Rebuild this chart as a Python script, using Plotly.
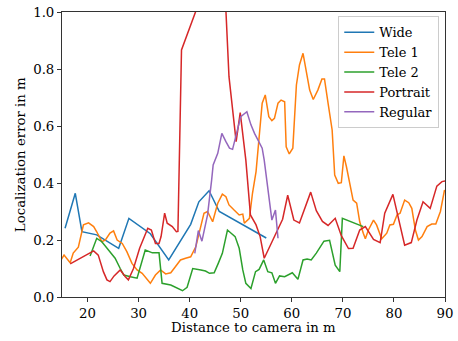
import plotly.graph_objects as go

# ---- data ----
wide_x = [15.6, 17.6, 18.9, 21.8, 26.1, 28.1, 32.3, 35.9, 40.2, 41.8, 43.8, 45.8, 55.0]
wide_y = [0.241, 0.364, 0.229, 0.218, 0.171, 0.276, 0.222, 0.130, 0.255, 0.334, 0.373, 0.300, 0.207]

tele1_x = [14.8, 15.4, 16.6, 17.2, 18.2, 19.2, 20.2, 21.2, 21.8, 22.8, 23.5, 24.4, 25.1, 25.8,
           26.8, 27.7, 28.7, 29.7, 30.7, 31.7, 32.3, 33.3, 34.3, 35.3, 36.3, 37.2, 38.2, 39.2,
           40.2, 41.2, 42.2, 42.8, 43.5, 44.5, 45.5, 46.4, 47.1, 47.7, 48.7, 49.7, 50.4, 50.7,
           51.7, 52.3, 53.0, 53.6, 54.2, 54.8, 55.5, 56.1, 56.6, 57.3, 57.9, 58.6, 58.9, 59.5,
           60.2, 60.9, 61.5, 62.2, 62.8, 63.5, 64.2, 65.1, 65.9, 66.4, 67.1, 67.9, 68.4, 69.1,
           69.7, 70.2, 70.7, 71.4, 72.0, 72.7, 73.3, 74.0, 74.4, 75.0, 76.0, 76.6, 77.6, 78.6,
           79.2, 79.9, 80.6, 81.2, 82.1, 82.9, 83.5, 84.2, 84.8, 85.5, 86.5, 87.4, 88.2, 89.1,
           89.9, 90.4]
tele1_y = [0.130, 0.147, 0.120, 0.154, 0.175, 0.253, 0.260, 0.247, 0.229, 0.194, 0.200, 0.224, 0.232, 0.200,
           0.188, 0.159, 0.118, 0.095, 0.083, 0.060, 0.048, 0.077, 0.095, 0.081, 0.085, 0.106, 0.130, 0.136,
           0.141, 0.176, 0.247, 0.294, 0.300, 0.264, 0.329, 0.361, 0.352, 0.323, 0.305, 0.288, 0.291, 0.259,
           0.276, 0.364, 0.440, 0.574, 0.680, 0.709, 0.633, 0.619, 0.627, 0.680, 0.691, 0.685, 0.527, 0.502,
           0.522, 0.744, 0.814, 0.855, 0.790, 0.726, 0.693, 0.726, 0.765, 0.765, 0.680, 0.586, 0.428, 0.399,
           0.401, 0.495, 0.457, 0.393, 0.340, 0.329, 0.264, 0.224, 0.204, 0.235, 0.270, 0.253, 0.204, 0.224,
           0.253, 0.255, 0.288, 0.294, 0.340, 0.331, 0.311, 0.235, 0.200, 0.212, 0.247, 0.256, 0.256, 0.300,
           0.375, 0.364]

tele2_x = [20.5, 21.8, 22.8, 24.1, 25.4, 26.4, 27.1, 28.4, 29.7, 31.3, 32.7, 34.0, 34.6, 36.3,
           37.6, 38.6, 39.5, 40.6, 42.2, 43.1, 43.9, 44.8, 45.6, 46.4, 47.4, 48.1, 48.9, 49.7,
           50.4, 51.0, 52.0, 52.9, 53.6, 54.5, 55.3, 56.1, 56.8, 57.6, 58.6, 60.1, 61.2, 62.2,
           63.0, 63.8, 64.8, 66.3, 67.4, 68.5, 69.4, 69.9, 74.0]
tele2_y = [0.144, 0.206, 0.194, 0.165, 0.136, 0.100, 0.077, 0.071, 0.066, 0.165, 0.155, 0.155, 0.048, 0.042,
           0.030, 0.022, 0.034, 0.100, 0.095, 0.091, 0.083, 0.085, 0.118, 0.153, 0.235, 0.224, 0.212, 0.171,
           0.095, 0.048, 0.030, 0.089, 0.097, 0.130, 0.089, 0.085, 0.048, 0.074, 0.071, 0.085, 0.062, 0.130,
           0.133, 0.130, 0.154, 0.196, 0.199, 0.112, 0.089, 0.276, 0.247]

portrait_x = [16.6, 21.2, 22.1, 23.1, 23.8, 24.4, 25.2, 26.4, 27.4, 28.0, 29.0, 30.2, 31.8, 32.5,
              33.3, 34.0, 34.4, 35.1, 35.6, 36.6, 37.4, 37.7, 38.4, 43.0, 46.8, 47.7, 49.1, 49.9,
              51.0, 51.9, 53.0, 53.8, 54.6, 58.2, 59.2, 60.4, 61.5, 63.7, 64.8, 66.0, 67.1, 68.5,
              69.7, 71.1, 72.0, 73.3, 74.4, 76.0, 77.3, 78.2, 79.8, 80.7, 82.1, 83.4, 84.5, 85.7,
              87.1, 88.4, 89.4, 90.4]
portrait_y = [0.116, 0.162, 0.147, 0.089, 0.060, 0.054, 0.074, 0.095, 0.071, 0.060, 0.100, 0.171, 0.241, 0.235,
              0.188, 0.188, 0.212, 0.294, 0.259, 0.247, 0.229, 0.230, 0.867, 1.090, 1.120, 0.773, 0.545, 0.647,
              0.480, 0.288, 0.253, 0.212, 0.136, 0.273, 0.357, 0.270, 0.260, 0.368, 0.303, 0.265, 0.251, 0.276,
              0.215, 0.170, 0.171, 0.235, 0.247, 0.202, 0.191, 0.294, 0.360, 0.288, 0.182, 0.191, 0.270, 0.334,
              0.311, 0.389, 0.405, 0.408]

regular_x = [41.0, 41.7, 42.4, 43.5, 44.3, 44.6, 45.5, 46.3, 47.1, 47.8, 48.4, 49.2, 50.0, 51.2,
             52.0, 52.7, 53.5, 54.2, 54.6, 55.6, 56.1, 56.8, 57.3]
regular_y = [0.153, 0.233, 0.196, 0.288, 0.410, 0.463, 0.504, 0.574, 0.545, 0.522, 0.518, 0.580, 0.633, 0.650,
             0.604, 0.574, 0.545, 0.522, 0.480, 0.329, 0.270, 0.305, 0.206]

series = [
    ("Wide", wide_x, wide_y, "#1f77b4"),
    ("Tele 1", tele1_x, tele1_y, "#ff7f0e"),
    ("Tele 2", tele2_x, tele2_y, "#2ca02c"),
    ("Portrait", portrait_x, portrait_y, "#d62728"),
    ("Regular", regular_x, regular_y, "#9467bd"),
]

x_ticks = [20, 30, 40, 50, 60, 70, 80, 90]
y_ticks = [0.0, 0.2, 0.4, 0.6, 0.8, 1.0]
x_title = "Distance to camera in m"
y_title = "Localization error in m"

FONT = "DejaVu Serif"
FS = 13.3

fig = go.Figure()
for name, xs, ys, color in series:
    fig.add_trace(go.Scatter(x=xs, y=ys, mode="lines", name=name,
                             line=dict(color=color, width=1.5)))

axis_common = dict(showline=True, mirror=True, linecolor="#333333", linewidth=1,
                   ticks="outside", ticklen=4, tickwidth=1, tickcolor="#333333",
                   showgrid=False, zeroline=False, automargin=False,
                   tickfont=dict(family=FONT, size=FS, color="black"))

fig.update_xaxes(range=[15, 90], tickvals=x_ticks, **axis_common)
fig.update_yaxes(range=[0, 1], tickvals=y_ticks, tickformat=".1f", **axis_common)

fig.add_annotation(text=x_title, xref="paper", yref="paper", x=0.5, y=-0.107,
                   xanchor="center", yanchor="middle", showarrow=False,
                   font=dict(family=FONT, size=FS, color="black"))
fig.add_annotation(text=y_title, xref="paper", yref="paper", x=-0.108, y=0.5,
                   xanchor="center", yanchor="middle", showarrow=False, textangle=-90,
                   font=dict(family=FONT, size=FS, color="black"))

fig.update_layout(
    width=458, height=341,
    margin=dict(l=62, r=13, t=12, b=44),
    plot_bgcolor="white", paper_bgcolor="white",
    font=dict(family=FONT, size=FS, color="black"),
    legend=dict(x=0.985, y=0.985, xanchor="right", yanchor="top",
                bgcolor="rgba(255,255,255,0.8)", bordercolor="#cccccc", borderwidth=1,
                font=dict(family=FONT, size=13, color="black"),
                tracegroupgap=0, itemwidth=30),
)

fig.write_html("out.html", config={"displayModeBar": False},
               post_script="document.body.style.margin='0';document.body.style.overflow='hidden';")
